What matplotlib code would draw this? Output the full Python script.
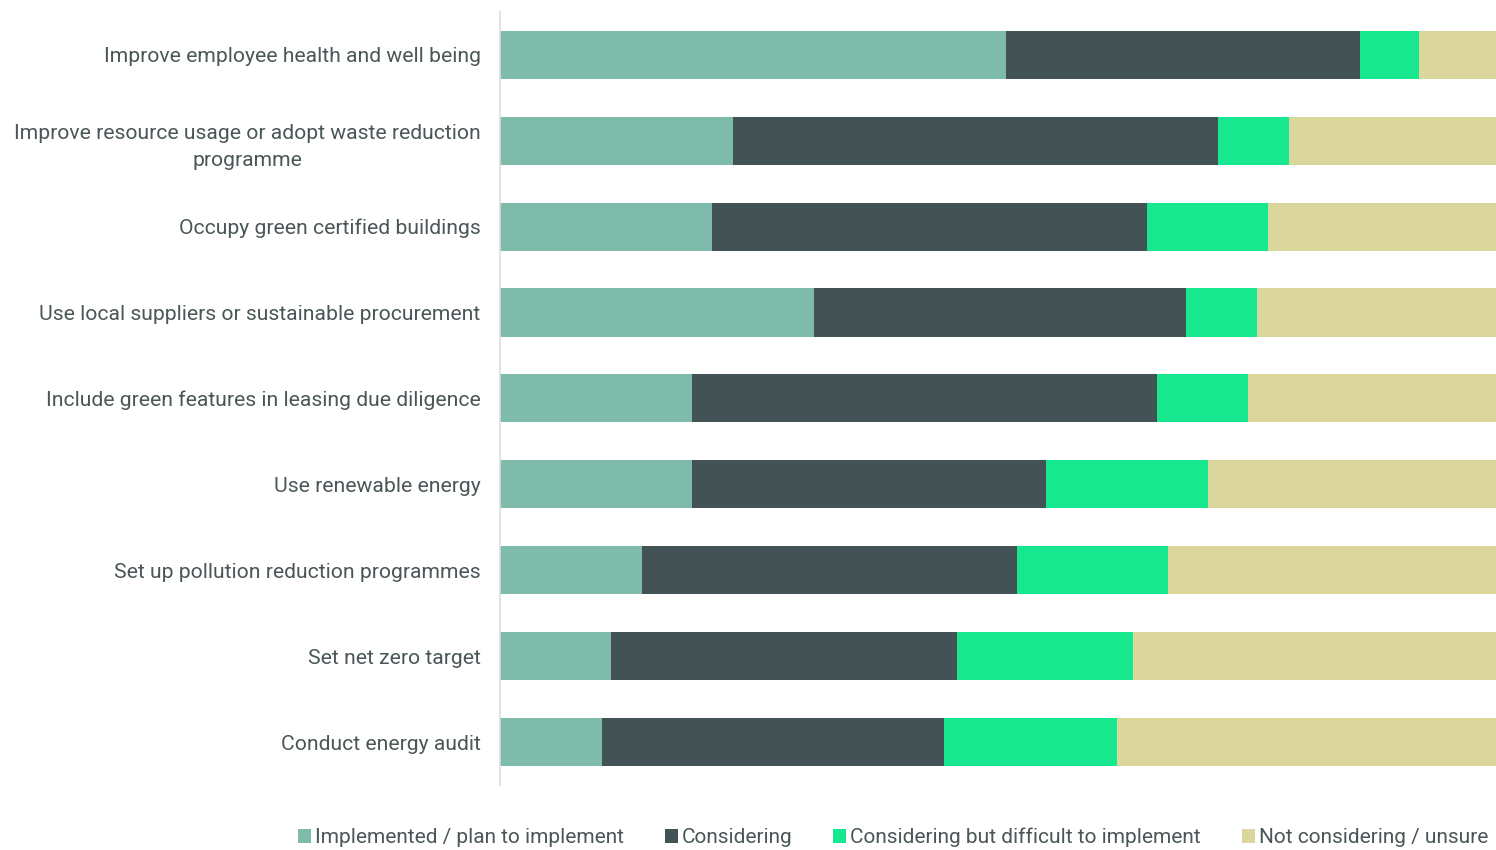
import matplotlib
matplotlib.use("Agg")
import matplotlib.pyplot as plt
import numpy as np

plt.rcParams['font.family'] = ['Roboto', 'DejaVu Sans']

actions = ["Improve employee health and well being",
           "Improve resource usage or adopt waste reduction\nprogramme",
           "Occupy green certified buildings",
           "Use local suppliers or sustainable procurement",
           "Include green features in leasing due diligence",
           "Use renewable energy",
           "Set up pollution reduction programmes",
           "Set net zero target",
           "Conduct energy audit"]
implemented = [50.8, 23.4, 21.3, 31.5, 19.3, 19.3, 14.3, 11.1, 10.2]
considering = [35.5, 48.7, 43.7, 37.4, 46.7, 35.5, 37.6, 34.8, 34.4]
difficult = [6.0, 7.1, 12.1, 7.1, 9.1, 16.3, 15.2, 17.7, 17.3]
not_considering = [7.7, 20.8, 22.9, 24.0, 24.9, 28.9, 32.9, 36.4, 38.1]

series = ["Implemented / plan to implement", "Considering",
          "Considering but difficult to implement", "Not considering / unsure"]
colors = ["#7fbbab", "#435254", "#17e88f", "#dbd69b"]
txt = "#4a5657"

fig = plt.figure(figsize=(14.96, 8.5), dpi=100)
ax = fig.add_axes([0.3342, 0.0765, 0.6658, 0.9095])

y = np.arange(len(actions))
left = np.zeros(len(actions))
for vals, name, c in zip([implemented, considering, difficult, not_considering], series, colors):
    ax.barh(y, vals, left=left, height=0.56, color=c, label=name)
    left += np.array(vals)

ax.set_xlim(0, 100)
ax.set_ylim(len(actions) - 0.5, -0.5)
ax.set_yticks(y)
ax.set_yticklabels(actions, fontsize=15.2, color=txt, ha="right", multialignment="center",
                   linespacing=1.55)
ax.tick_params(axis="y", length=0, pad=14)
ax.set_xticks([])
for s in ["top", "right", "bottom"]:
    ax.spines[s].set_visible(False)
ax.spines["left"].set_color("#dddddd")
ax.spines["left"].set_linewidth(1.2)

fig.legend(loc="lower center", bbox_to_anchor=(0.597, -0.019), ncol=4, frameon=False,
           fontsize=15, handlelength=0.62, handleheight=0.62, handletextpad=0.2,
           columnspacing=1.95, labelcolor=txt)

fig.savefig("out.png", dpi=100)
